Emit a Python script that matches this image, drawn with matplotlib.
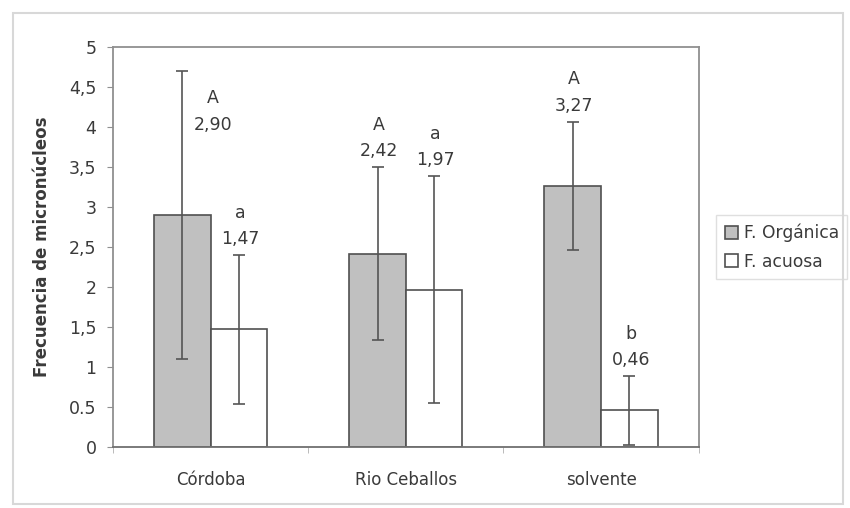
import numpy as np
import matplotlib
matplotlib.use("Agg")
import matplotlib.pyplot as plt
from matplotlib.patches import Rectangle

plt.rcParams['font.family'] = ['DejaVu Sans']

# data
sitios = ['Córdoba', 'Rio Ceballos', 'solvente']
organica = [2.90, 2.42, 3.27]
acuosa = [1.47, 1.97, 0.46]
err_organica = [1.80, 1.08, 0.80]
err_acuosa = [0.93, 1.42, 0.43]
letras_organica = ['A', 'A', 'A']
letras_acuosa = ['a', 'a', 'b']
etiq_organica = ['2,90', '2,42', '3,27']
etiq_acuosa = ['1,47', '1,97', '0,46']
yticks = [0, 0.5, 1, 1.5, 2, 2.5, 3, 3.5, 4, 4.5, 5]
ytick_labels = ['0', '0.5', '1', '1,5', '2', '2,5', '3', '3,5', '4', '4,5', '5']

txt = '#3a3a3a'
edge = '#505050'

fig = plt.figure(figsize=(8.5, 5.08), dpi=100)
ax = fig.add_axes([0.133, 0.120, 0.689, 0.787])

# outer chart frame
fig.patches.append(Rectangle((13 / 850, 4 / 508), 830 / 850, 491 / 508,
                             transform=fig.transFigure, fill=False,
                             edgecolor='#d8d8d8', linewidth=1.5))

x = np.arange(len(sitios)) + 0.5
w = 0.29
ax.bar(x - w / 2, organica, w, color='#c0c0c0', edgecolor=edge, linewidth=1.2,
       label='F. Orgánica', zorder=2)
ax.bar(x + w / 2, acuosa, w, color='white', edgecolor=edge, linewidth=1.2,
       label='F. acuosa', zorder=2)
ax.errorbar(x - w / 2, organica, yerr=err_organica, fmt='none', ecolor='#555555',
            elinewidth=1.2, capsize=4, capthick=1.2, zorder=3)
ax.errorbar(x + w / 2, acuosa, yerr=err_acuosa, fmt='none', ecolor='#555555',
            elinewidth=1.2, capsize=4, capthick=1.2, zorder=3)

# letters and values above the error bars
for i in range(len(sitios)):
    top_o = organica[i] + err_organica[i]
    top_a = acuosa[i] + err_acuosa[i]
    if i == 0:
        # first label sits beside the long error bar
        off = (22, -45)
    else:
        off = (1, 5)
    ax.annotate(letras_organica[i] + '\n' + etiq_organica[i],
                xy=(x[i] - w / 2, top_o), xytext=off,
                textcoords='offset points', ha='center', va='bottom',
                fontsize=12.5, color=txt, linespacing=1.6)
    ax.annotate(letras_acuosa[i] + '\n' + etiq_acuosa[i],
                xy=(x[i] + w / 2, top_a), xytext=(1, 5),
                textcoords='offset points', ha='center', va='bottom',
                fontsize=12.5, color=txt, linespacing=1.6)

ax.set_xlim(0, 3)
ax.set_ylim(0, 5)
ax.set_yticks(yticks)
ax.set_yticklabels(ytick_labels, fontsize=12.5, color=txt)
ax.set_xticks(x)
ax.set_xticklabels(sitios, fontsize=12, color=txt)
ax.tick_params(axis='x', length=0, pad=17)
ax.tick_params(axis='y', length=4, color='#909090', pad=8)
ax.set_xticks([0, 1, 2, 3], minor=True)
ax.tick_params(axis='x', which='minor', length=4, color='#b0b0b0')
ax.set_ylabel('Frecuencia de micronúcleos', fontsize=12, fontweight='bold',
              color=txt, labelpad=13)
for s in ax.spines.values():
    s.set_color('#909090')
    s.set_linewidth(1.3)
ax.spines['bottom'].set_color('#707070')

ax.legend(loc='center left', bbox_to_anchor=(1.03, 0.5), frameon=True,
          fontsize=12.3, labelcolor=txt, handlelength=0.8, handleheight=0.8,
          handletextpad=0.3, borderpad=0.5, labelspacing=0.6, fancybox=False,
          edgecolor='#d8d8d8', borderaxespad=0)

fig.savefig('out.png', dpi=100)
